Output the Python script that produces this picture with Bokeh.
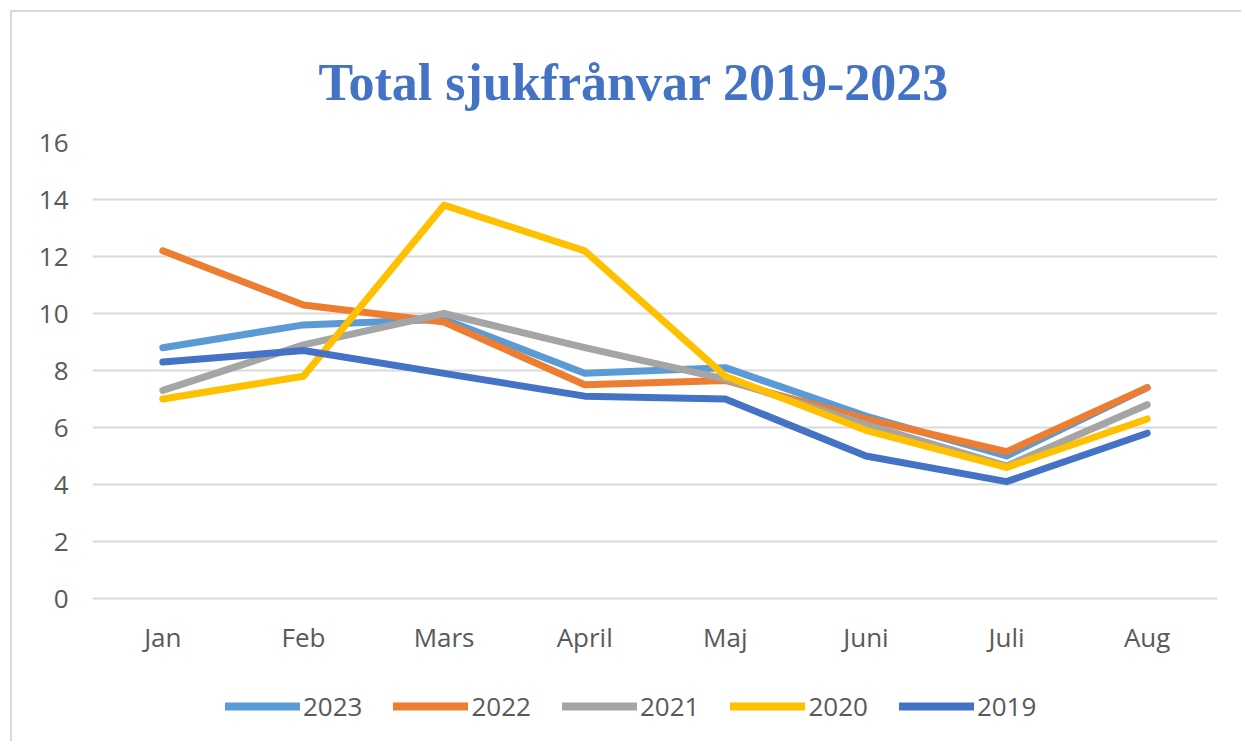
from bokeh.plotting import figure
from bokeh.layouts import column
from bokeh.models import FactorRange, Range1d, Legend, LegendItem, FixedTicker
from bokeh.embed import file_html
from bokeh.resources import INLINE

months = ["Jan", "Feb", "Mars", "April", "Maj", "Juni", "Juli", "Aug"]
years = ["2023", "2022", "2021", "2020", "2019"]
v2023 = [8.8, 9.6, 9.8, 7.9, 8.1, 6.4, 5.0, 7.4]
v2022 = [12.2, 10.3, 9.7, 7.5, 7.65, 6.3, 5.15, 7.4]
v2021 = [7.3, 8.9, 10.0, 8.8, 7.7, 6.1, 4.65, 6.8]
v2020 = [7.0, 7.8, 13.8, 12.2, 7.8, 5.9, 4.6, 6.3]
v2019 = [8.3, 8.7, 7.9, 7.1, 7.0, 5.0, 4.1, 5.8]
series = [v2023, v2022, v2021, v2020, v2019]
colors = ["#5B9BD5", "#ED7D31", "#A5A5A5", "#FFC000", "#4472C4"]
yticks = [0, 2, 4, 6, 8, 10, 12, 14, 16]

BORDER = "2px solid #d9d9d9"

p = figure(x_range=FactorRange(*months, range_padding=0), y_range=Range1d(0, 16),
           width=1231, height=658, output_backend="svg", toolbar_location=None,
           title="Total sjukfrånvar 2019-2023",
           min_border_left=80, min_border_right=26, min_border_top=130,
           min_border_bottom=72)
p.styles = {"border-left": BORDER, "border-top": BORDER,
            "margin-left": "10px", "margin-top": "10px"}
p.outline_line_color = None

p.title.align = "left"
p.title.offset = 226
p.title.text_font = "Liberation Serif"
p.title.text_font_style = "bold"
p.title.text_font_size = "52px"
p.title.vertical_align = "top"
p.title.text_color = "#4472C4"
p.title.standoff = 60

for yr, vals, c in zip(years, series, colors):
    p.line(months, vals, line_color=c, line_width=7, line_join="round", line_cap="round")

p.yaxis.ticker = FixedTicker(ticks=yticks)
p.ygrid.grid_line_color = "#d9d9d9"
p.ygrid.grid_line_width = 2
p.xgrid.grid_line_color = None
for ax in (p.xaxis, p.yaxis):
    ax.axis_line_color = None
    ax.major_tick_line_color = None
    ax.minor_tick_line_color = None
    ax.major_label_text_font = "Open Sans"
    ax.major_label_text_font_size = "26px"
    ax.major_label_text_color = "#595959"
p.xaxis.axis_line_color = "#d9d9d9"
p.xaxis.axis_line_width = 2
p.yaxis.major_label_standoff = 18
p.xaxis.major_label_standoff = 14

# legend strip below the chart (series drawn off-screen, only the legend shows)
p2 = figure(width=1231, height=73, output_backend="svg", toolbar_location=None,
            x_range=FactorRange(*months, range_padding=0), y_range=Range1d(100, 101),
            x_axis_type=None, y_axis_type=None,
            min_border_left=0, min_border_right=0, min_border_top=0, min_border_bottom=0)
p2.styles = {"border-left": BORDER, "margin-left": "10px"}
p2.outline_line_color = None
p2.xgrid.grid_line_color = None
p2.ygrid.grid_line_color = None
items = []
for yr, vals, c in zip(years, series, colors):
    r = p2.line(months, vals, line_color=c, line_width=8, line_cap="round")
    items.append(LegendItem(label=yr, renderers=[r]))

legend = Legend(items=items, orientation="horizontal", location=(133, 17))
legend.label_text_font = "Open Sans"
legend.label_text_font_size = "26px"
legend.label_text_color = "#595959"
legend.glyph_width = 75
legend.glyph_height = 28
legend.label_standoff = 3
legend.spacing = 31
legend.border_line_color = None
legend.background_fill_alpha = 0
legend.margin = 0
legend.padding = 0
p2.add_layout(legend)

layout = column(p, p2, spacing=0)
open("out.html", "w").write(file_html(layout, INLINE))
